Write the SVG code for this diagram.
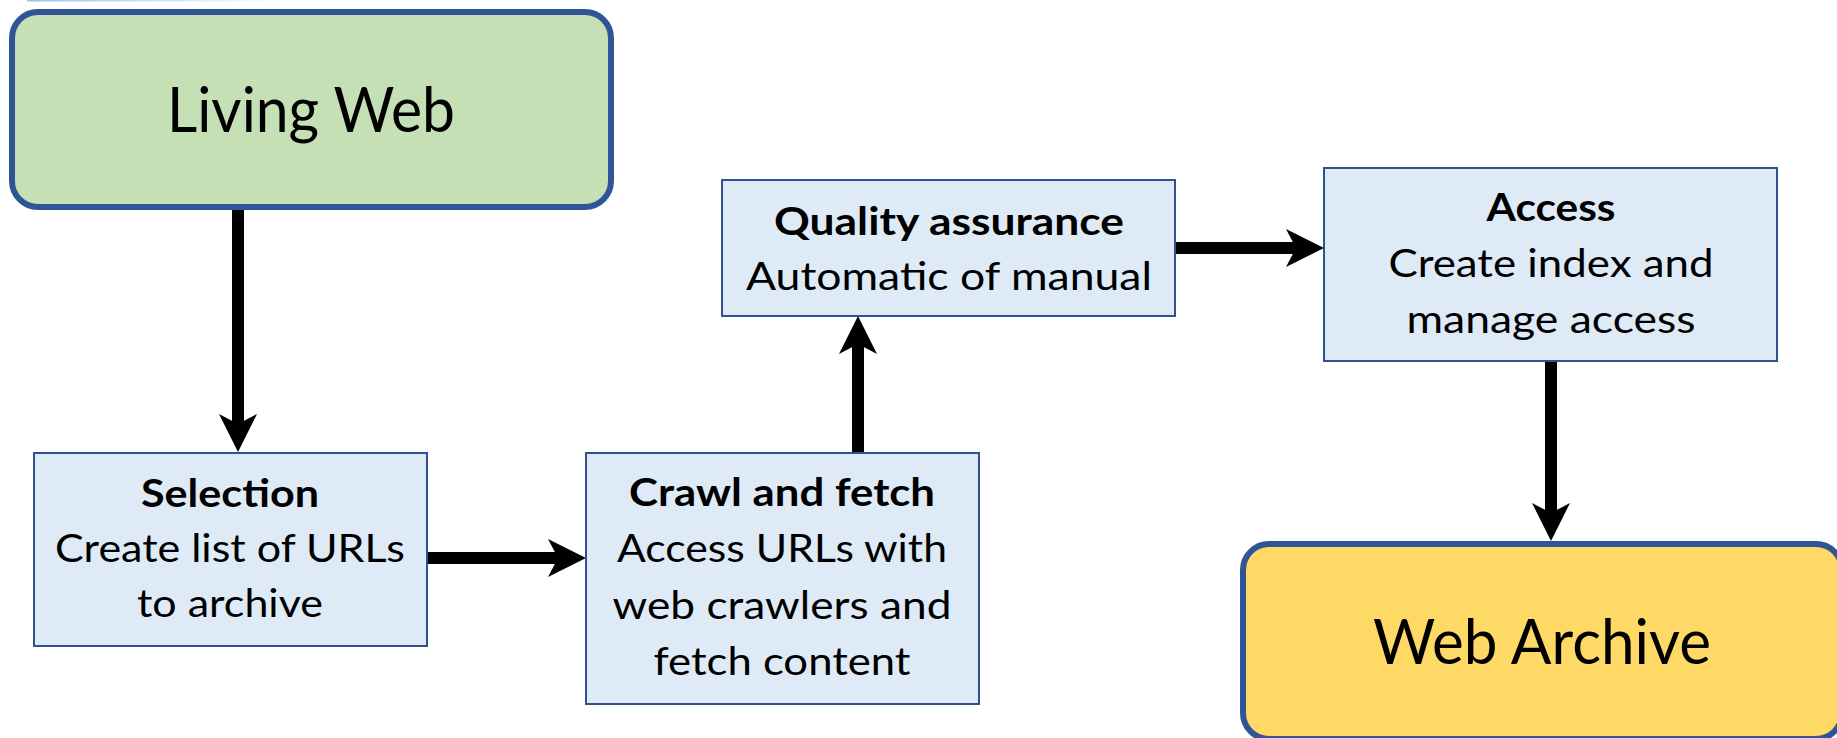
<svg xmlns="http://www.w3.org/2000/svg" width="1837" height="738" viewBox="0 0 1837 738">
  <style>
    .end { fill: #C5E0B4; stroke: #2F5597; stroke-width: 6; }
    .arch { fill: #FFD966; stroke: #2F5597; stroke-width: 6; }
    .step { fill: #DEEBF7; stroke: #2F528F; stroke-width: 2; }
    text { font-family: Lato, "Open Sans", "Liberation Sans", sans-serif; fill: #000; text-anchor: middle; }
    .big { font-size: 62px; }
    .t { font-size: 39px; }
    .b { font-weight: bold; }
    .flow { stroke: #000; stroke-width: 12; fill: none; marker-end: url(#head); }
  </style>
  <defs>
    <marker id="head" viewBox="0 -20 40 40" markerWidth="40" markerHeight="40" refX="12" refY="0" orient="auto" markerUnits="userSpaceOnUse">
      <path d="M0,-19 L38,0 L0,19 L10,0 Z" fill="#000"/>
    </marker>
    <linearGradient id="fade" x1="0" y1="0" x2="1" y2="0">
      <stop offset="0" stop-color="#9DC3E6"/>
      <stop offset="1" stop-color="#FFFFFF"/>
    </linearGradient>
  </defs>

  <rect x="27" y="0" width="255" height="1.5" fill="url(#fade)"/>

  <g id="connectors">
    <line class="flow" x1="238" y1="210" x2="238" y2="426"/>
    <line class="flow" x1="427" y1="558" x2="560" y2="558"/>
    <line class="flow" x1="858" y1="453" x2="858" y2="342"/>
    <line class="flow" x1="1175" y1="248" x2="1298" y2="248"/>
    <line class="flow" x1="1551" y1="361" x2="1551" y2="515"/>
  </g>

  <g id="living-web">
    <rect class="end" x="12" y="12" width="599" height="195" rx="26"/>
    <text class="big" x="311" y="132" textLength="288" lengthAdjust="spacingAndGlyphs">Living Web</text>
  </g>

  <g id="selection">
    <rect class="step" x="34" y="453" width="393" height="193"/>
    <text class="t b" x="230" y="507" textLength="178" lengthAdjust="spacingAndGlyphs">Selection</text>
    <text class="t" x="230" y="562" textLength="350" lengthAdjust="spacingAndGlyphs">Create list of URLs</text>
    <text class="t" x="230" y="617" textLength="186" lengthAdjust="spacingAndGlyphs">to archive</text>
  </g>

  <g id="crawl-fetch">
    <rect class="step" x="586" y="453" width="393" height="251"/>
    <text class="t b" x="782" y="506" textLength="306" lengthAdjust="spacingAndGlyphs">Crawl and fetch</text>
    <text class="t" x="782" y="562" textLength="330" lengthAdjust="spacingAndGlyphs">Access URLs with</text>
    <text class="t" x="782" y="619" textLength="339" lengthAdjust="spacingAndGlyphs">web crawlers and</text>
    <text class="t" x="782" y="675" textLength="257" lengthAdjust="spacingAndGlyphs">fetch content</text>
  </g>

  <g id="quality-assurance">
    <rect class="step" x="722" y="180" width="453" height="136"/>
    <text class="t b" x="949" y="235" textLength="350" lengthAdjust="spacingAndGlyphs">Quality assurance</text>
    <text class="t" x="949" y="290" textLength="406" lengthAdjust="spacingAndGlyphs">Automatic of manual</text>
  </g>

  <g id="access">
    <rect class="step" x="1324" y="168" width="453" height="193"/>
    <text class="t b" x="1551" y="221" textLength="129" lengthAdjust="spacingAndGlyphs">Access</text>
    <text class="t" x="1551" y="277" textLength="325" lengthAdjust="spacingAndGlyphs">Create index and</text>
    <text class="t" x="1551" y="333" textLength="289" lengthAdjust="spacingAndGlyphs">manage access</text>
  </g>

  <g id="web-archive">
    <rect class="arch" x="1243" y="544" width="599" height="195" rx="26"/>
    <text class="big" x="1542" y="664" textLength="338" lengthAdjust="spacingAndGlyphs">Web Archive</text>
  </g>
</svg>
